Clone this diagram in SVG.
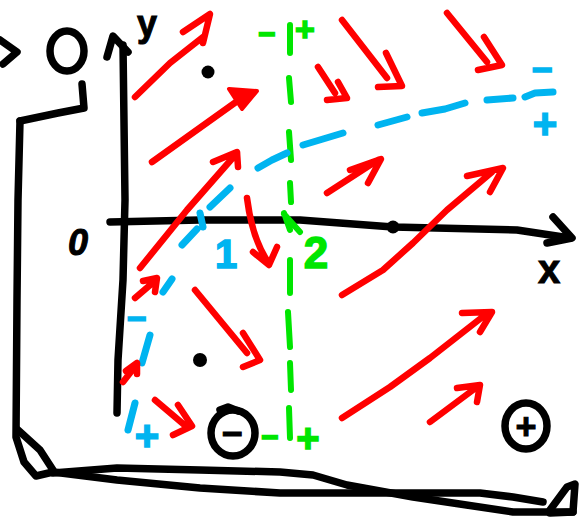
<svg xmlns="http://www.w3.org/2000/svg" width="581" height="527" viewBox="0 0 581 527">
<style>
.k{fill:none;stroke:#000;stroke-width:7.5;stroke-linecap:round;stroke-linejoin:round}
.r{fill:none;stroke:#ff0000;stroke-width:6.5;stroke-linecap:round;stroke-linejoin:round}
.b{fill:none;stroke:#00b4f0;stroke-width:7;stroke-linecap:round;stroke-linejoin:round}
.g{fill:none;stroke:#00e600;stroke-width:6;stroke-linecap:round;stroke-linejoin:round}
.t{font-family:"Liberation Sans","DejaVu Sans",sans-serif;font-weight:bold;text-anchor:middle}
.tb{fill:#00b4f0;stroke:#00b4f0;stroke-width:1.5}
.tg{fill:#00e600;stroke:#00e600;stroke-width:1.5}
.tk{fill:#000;stroke:#000;stroke-width:1}
</style>
<rect width="581" height="527" fill="#fff"/>
<g id="frame">
<path class="k" d="M0,40 L17,52 L3,64"/>
<ellipse class="k" cx="67" cy="51" rx="17" ry="20" stroke-width="6"/>
<path class="k" stroke-width="12" d="M82,84 L84,108 L58,113 L20,121"/>
<path class="k" d="M20,121 L18,200 L17,300 L16,437 L24,462 L36,476 L53,472"/>
<path class="k" d="M18,430 L40,450 L53,470"/>
<path class="k" d="M53,473 L117,468 L200,470 L280,472 L313,475 L347,485 L413,497 L513,512 L573,512"/>
<path class="k" d="M53,472 L117,480 L200,488 L280,493 L380,493 L480,493 L513,497 L543,502"/>
<path class="k" d="M550,510 L567,487 L575,484 L573,512 L550,513"/>
</g>
<g id="axes">
<path class="k" d="M123,45 L125,200 L123,280 L118,360 L117,413"/>
<path class="k" d="M107,57 L113,36 L128,52"/>
<path class="k" d="M110,222 L200,220 L300,220 L393,227 L517,230 L570,238"/>
<path class="k" d="M553,217 L572,238 L547,243"/>
<text class="t tk" x="147" y="36" font-size="36">y</text>
<text class="t tk" x="549" y="283" font-size="40">x</text>
<text class="t tk" x="78" y="255" font-size="36" font-style="italic">0</text>
</g>
<g id="points">
<circle cx="208" cy="72" r="6.5"/>
<circle cx="393" cy="227" r="6.5"/>
<circle cx="200" cy="360" r="7"/>
</g>
<g id="signs">
<ellipse class="k" cx="233" cy="433" rx="22" ry="23" stroke-width="6"/>
<path class="k" stroke-width="6" d="M220,410 L228,407 L238,411"/>
<text class="t tk" x="232" y="446" font-size="36">−</text>
<ellipse class="k" cx="526" cy="426" rx="21" ry="23" stroke-width="6"/>
<text class="t tk" x="526" y="439" font-size="36">+</text>
</g>
<g id="green-line">
<path class="g" d="M290,25 L290,53 M289,78 L291,102 M289,132 L291,160 M290,183 L291,202 M284,213 L290,230 M284,214 L300,232 M290,260 L290,293 M288,312 L290,347 M290,363 L291,390 M289,408 L290,438"/>
<text class="t tg" x="267" y="44" font-size="30">−</text>
<text class="t tg" x="305" y="41" font-size="34">+</text>
<text class="t tg" x="270" y="447" font-size="30">−</text>
<text class="t tg" x="308" y="452" font-size="40">+</text>
<text class="t tg" x="316" y="268" font-size="44">2</text>
</g>
<g id="blue-curve">
<path class="b" d="M128,430 L135,403 M142,363 L150,335 M163,292 L172,279 M182,245 L197,229 M200,213 L203,227 M210,207 L230,188 M258,168 L272,160 L287,153 M303,145 L343,133 M378,125 L407,117 M422,113 L445,109 L465,103 M487,100 L513,98 M525,97 L535,93 L553,92"/>
<text class="t tb" x="137" y="330" font-size="34">−</text>
<text class="t tb" x="147" y="450" font-size="42">+</text>
<text class="t tb" x="542" y="82" font-size="36">−</text>
<text class="t tb" x="545" y="138" font-size="42">+</text>
<text class="t tb" x="226" y="268" font-size="40">1</text>
</g>
<g id="arrows">
<path class="r" d="M135,97 L170,63 L203,37 M183,32 L210,14 L203,43"/>
<path class="r" d="M152,162 L243,97"/>
<path d="M229,89 L257,91 L242,109 Z" fill="#ff0000" stroke="#ff0000" stroke-width="4" stroke-linejoin="round"/>
<path class="r" d="M140,268 L187,210 L237,153 M213,162 L237,152 L238,167"/>
<path class="r" d="M135,298 L156,280 M143,281 L157,278 L155,292"/>
<path class="r" d="M123,382 L137,364 M126,371 L137,363 L137,374"/>
<path class="r" d="M155,400 L188,428 M178,405 L192,426 L173,435"/>
<path class="r" d="M195,290 L247,353 M243,333 L260,360 L243,367"/>
<path class="r" d="M247,198 Q252,238 268,262 M253,252 L269,265 L277,247"/>
<path class="r" d="M318,67 L335,93 M327,100 L347,98 L338,82"/>
<path class="r" d="M342,20 L387,78 M378,87 L402,86 L386,53"/>
<path class="r" d="M447,13 L487,62 M478,70 L502,65 L484,37"/>
<path class="r" d="M327,193 L378,160 M350,170 L381,159 L368,183"/>
<path class="r" d="M342,295 L383,270 L413,243 L447,210 L492,172 M467,176 L503,168 L490,192"/>
<path class="r" d="M342,418 L390,387 L430,358 L485,315 M462,313 L492,312 L480,332"/>
<path class="r" d="M430,422 L477,387 M457,388 L480,385 L477,402"/>
</g>
</svg>
